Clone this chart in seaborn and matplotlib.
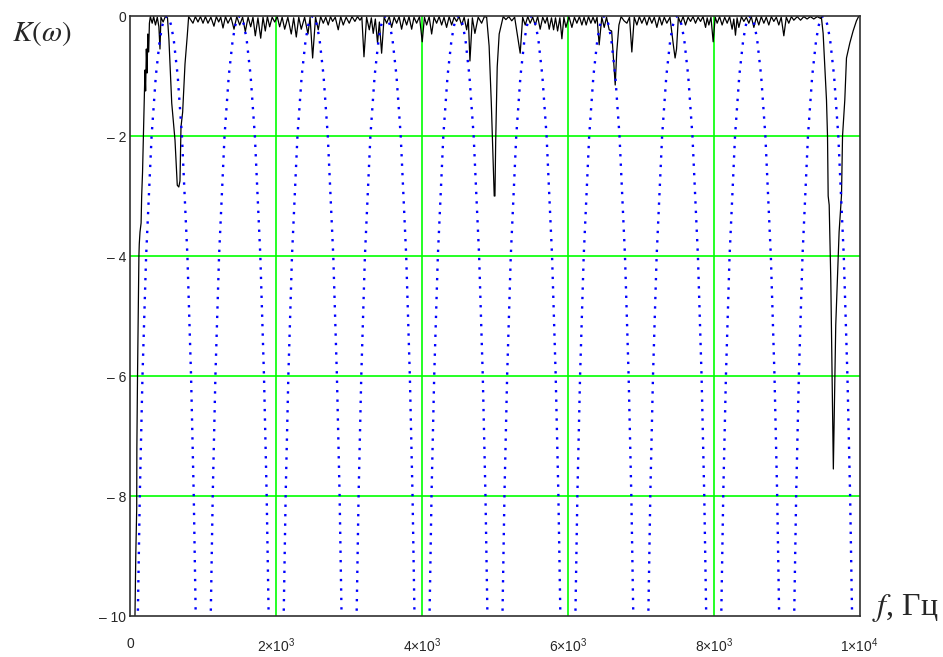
import matplotlib
matplotlib.use("Agg")
import numpy as np
import pandas as pd
import matplotlib.pyplot as plt
import seaborn as sns

# ── data ────────────────────────────────────────────────────
x_ticks = [0, 2000, 4000, 6000, 8000, 10000]
x_tick_labels = ["0", r"$\mathregular{2{\times}10^{3}}$", r"$\mathregular{4{\times}10^{3}}$",
                 r"$\mathregular{6{\times}10^{3}}$", r"$\mathregular{8{\times}10^{3}}$",
                 r"$\mathregular{1{\times}10^{4}}$"]
y_ticks = [0, -2, -4, -6, -8, -10]
y_tick_labels = ["0", "\u2013 2", "\u2013 4", "\u2013 6", "\u2013 8", "\u2013 10"]

# blue dotted curve: lobe peaks and the shape of one lobe around its peak
lobe_peak_f = [500, 1500, 2500, 3500, 4500, 5500, 6500, 7500, 8500, 9500]
lobe_offset = [-430, -397, -370, -333, -283, -208, -150, -96, -59, -30, 0,
               30, 59, 96, 150, 208, 283, 333, 370, 397, 430]
lobe_level = [-13.2, -10, -8, -6, -4, -2, -1, -0.4, -0.15, -0.04, 0,
              -0.04, -0.15, -0.4, -1, -2, -4, -6, -8, -10, -13.2]

# black curve K(w)
black_f = [30, 64, 75, 88, 90, 99, 110, 118, 123, 133, 148, 156, 168, 180, 190, 201, 210, 220, 230, 240,
           252, 262, 275, 300, 320, 345, 370, 392, 407, 420, 450, 480, 510, 530, 544, 568, 613, 644, 665, 681,
           695, 718, 750, 781, 800,
           859, 892, 928, 962, 997, 1030, 1065, 1105, 1147, 1180, 1212, 1240, 1271, 1305, 1339, 1380, 1422, 1460,
           1500, 1540, 1577, 1615, 1651, 1682, 1714, 1750, 1788, 1820, 1851, 1880, 1911, 1945, 1980, 2015, 2048,
           2082, 2117, 2160, 2207, 2240, 2276, 2310, 2344, 2390, 2436, 2465, 2500, 2540, 2577, 2610, 2646, 2680,
           2714, 2745, 2774, 2810, 2851, 2885, 2920, 2960, 3002, 3040, 3080, 3115, 3149, 3175, 3204, 3240, 3277,
           3305, 3331, 3360, 3390, 3415, 3446, 3480, 3515, 3550, 3583, 3618, 3652, 3686, 3720, 3755, 3789, 3822,
           3858, 3890, 3926, 3965, 4003, 4033, 4063, 4098, 4132, 4165, 4200, 4235, 4269, 4302, 4337, 4372, 4406,
           4440, 4474, 4508, 4543, 4578, 4612, 4635, 4657, 4690, 4725, 4770, 4817, 4855,
           4886, 4920, 4931, 4950, 4968, 4990, 5000, 5010, 5031, 5058, 5113,
           5150, 5190, 5230, 5270, 5346, 5380, 5415, 5450, 5483, 5518, 5552, 5586, 5620, 5655, 5689, 5716, 5744,
           5775, 5804, 5830, 5859, 5890, 5918, 5945, 5973, 6015, 6055, 6090, 6123, 6158, 6192, 6222, 6251, 6283,
           6315, 6345, 6374, 6400, 6429, 6465, 6498, 6530, 6566, 6600, 6630, 6649, 6670, 6700, 6730, 6770, 6809,
           6845, 6877, 6910, 6946, 6980, 7014, 7050, 7083, 7117, 7151, 7185, 7220, 7255, 7288, 7322, 7357, 7400,
           7448, 7470, 7490, 7515, 7545, 7580, 7613, 7648, 7682, 7716, 7750, 7785, 7819, 7853, 7888, 7910, 7933,
           7962, 7992, 8020, 8047, 8080, 8115, 8150, 8184, 8218, 8252, 8275, 8298, 8320, 8344, 8380, 8413, 8447,
           8481, 8515, 8550, 8584, 8618, 8652, 8687, 8720, 8755, 8790, 8824, 8858, 8892, 8925, 8961, 8995, 9029,
           9065, 9098, 9145, 9190, 9235, 9280, 9325, 9372, 9420, 9464,
           9476, 9500, 9523, 9546, 9560, 9569, 9583, 9605, 9623, 9640, 9660, 9673, 9697, 9719, 9752, 9766, 9797,
           9820, 9866, 9911, 9957, 9990]
black_k = [-12, -10, -9.0, -8.2, -7.2, -6.0, -4.8, -4.0, -3.8, -3.6, -3.45, -3.0, -2.6, -2.0, -1.5, -0.9, -1.25, -0.55, -0.95, -0.3,
           -0.6, -0.12, -0.01, -0.12, -0.01, -0.15, -0.02, -0.18, -0.55, -0.02, -0.1, -0.01, -0.03, -0.4, -0.8, -1.45, -2.07, -2.82, -2.85, -2.75,
           -1.85, -1.6, -0.8, -0.33, -0.01,
           -0.12, -0.01, -0.1, -0.01, -0.12, -0.01, -0.12, -0.02, -0.17, -0.01, -0.1, -0.02, -0.2, -0.01, -0.12, -0.02, -0.22, -0.01,
           -0.15, -0.02, -0.26, -0.02, -0.18, -0.02, -0.33, -0.03, -0.37, -0.02, -0.25, -0.01, -0.18, -0.02, -0.1, -0.01, -0.18,
           -0.02, -0.22, -0.02, -0.3, -0.03, -0.35, -0.02, -0.22, -0.02, -0.3, -0.02, -0.7, -0.02, -0.23, -0.01, -0.12, -0.02,
           -0.15, -0.01, -0.09, -0.02, -0.23, -0.01, -0.15, -0.02, -0.12, -0.01, -0.09, -0.01, -0.07, -0.02, -0.68, -0.02, -0.23,
           -0.03, -0.29, -0.05, -0.45, -0.1, -0.62, -0.02, -0.12, -0.01, -0.19, -0.02, -0.12, -0.01, -0.22, -0.02, -0.15, -0.01,
           -0.22, -0.02, -0.12, -0.01, -0.43, -0.02, -0.15, -0.01, -0.3, -0.02, -0.12, -0.01, -0.15, -0.02, -0.19, -0.01, -0.15,
           -0.02, -0.09, -0.01, -0.15, -0.02, -0.23, -0.05, -0.75, -0.03, -0.29, -0.02, -0.12, -0.01,
           -0.02, -0.5, -0.84, -1.45, -2.15, -3.0, -3.0, -2.1, -0.85, -0.3, -0.01,
           -0.06, -0.01, -0.08, -0.02, -0.62, -0.02, -0.15, -0.01, -0.12, -0.02, -0.15, -0.01, -0.22, -0.02, -0.12, -0.02, -0.22,
           -0.03, -0.23, -0.03, -0.25, -0.03, -0.38, -0.02, -0.19, -0.01, -0.19, -0.02, -0.12, -0.01, -0.15, -0.02, -0.15, -0.01,
           -0.12, -0.02, -0.12, -0.02, -0.48, -0.02, -0.19, -0.02, -0.23, -0.25, -0.8, -1.15, -0.6, -0.15, -0.01, -0.08, -0.12,
           -0.02, -0.6, -0.02, -0.15, -0.01, -0.12, -0.02, -0.15, -0.01, -0.12, -0.02, -0.19, -0.01, -0.15, -0.02, -0.12, -0.02,
           -0.5, -0.7, -0.55, -0.02, -0.12, -0.01, -0.15, -0.02, -0.09, -0.01, -0.12, -0.02, -0.09, -0.01, -0.19, -0.03, -0.15,
           -0.02, -0.43, -0.02, -0.12, -0.01, -0.15, -0.02, -0.12, -0.01, -0.22, -0.05, -0.32, -0.03, -0.19, -0.01, -0.09, -0.02,
           -0.12, -0.01, -0.19, -0.02, -0.15, -0.01, -0.12, -0.02, -0.15, -0.01, -0.09, -0.02, -0.15, -0.02, -0.33, -0.02, -0.12,
           -0.01, -0.07, -0.01, -0.07, -0.01, -0.05, -0.01, -0.05, -0.01, -0.04,
           -0.02, -0.29, -0.85, -1.4, -2.0, -3.0, -3.15, -4.4, -6.0, -7.55, -6.1, -5.15, -4.35, -3.6, -2.98, -2.0, -1.4,
           -0.7, -0.45, -0.25, -0.08, 0.0]

grid_f = [2000, 4000, 6000, 8000]
grid_k = [-2, -4, -6, -8]

# ── build frames ────────────────────────────────────────────
blue = pd.DataFrame([(c + o, lv) for c in lobe_peak_f
                     for o, lv in zip(lobe_offset, lobe_level)], columns=["f", "K"])
black = pd.DataFrame({"f": black_f, "K": black_k})

# ── plot ────────────────────────────────────────────────────
sns.set_theme(style="white")
plt.rcParams["font.family"] = ["Liberation Sans", "DejaVu Sans"]

fig = plt.figure(figsize=(9.43, 6.57), dpi=100)
ax = fig.add_axes([130.3 / 943, 1 - 616 / 657, 729.3 / 943, 600 / 657])

for f in grid_f:
    ax.axvline(f, color="#00ff00", lw=1.2, zorder=1)
for k in grid_k:
    ax.axhline(k, color="#00ff00", lw=1.2, zorder=1)

sns.lineplot(data=black, x="f", y="K", ax=ax, color="black", lw=0.9,
             estimator=None, sort=False, zorder=2)
sns.lineplot(data=blue, x="f", y="K", ax=ax, color="#0000ff", lw=1.7,
             linestyle=(0, (1, 3.0)), estimator=None, sort=False, zorder=3)

ax.set_xlim(0, 10000)
ax.set_ylim(-10, 0)
ax.set_xticks(x_ticks)
ax.set_xticklabels(x_tick_labels, fontsize=10)
ax.set_yticks(y_ticks)
ax.set_yticklabels(y_tick_labels, fontsize=10)
ax.tick_params(axis="x", length=0, pad=15)
ax.tick_params(axis="y", length=0, pad=3)
ax.set_xlabel("")
ax.set_ylabel("")
for s in ax.spines.values():
    s.set_color("#303030")
    s.set_linewidth(1.2)
    s.set_zorder(4)

fig.text(12 / 943, 1 - 34 / 657, r"$K(\omega)$", fontsize=21, va="center", ha="left",
         math_fontfamily="stix")
fig.text(872 / 943, 1 - 615 / 657, r"$f$, Гц", fontsize=23, va="baseline", ha="left",
         family=["Liberation Serif", "DejaVu Serif"], math_fontfamily="stix")

fig.savefig("out.png", dpi=100)
